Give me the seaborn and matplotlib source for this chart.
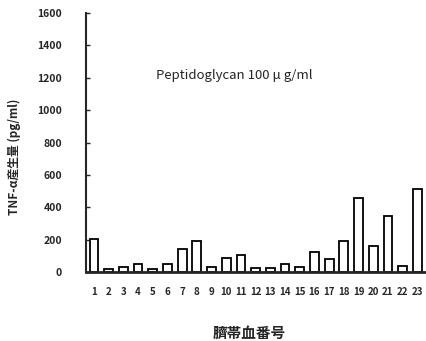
import matplotlib
matplotlib.use("Agg")
import matplotlib.pyplot as plt
import seaborn as sns
import pandas as pd

samples = [str(i) for i in range(1, 24)]
tnf_alpha = [205, 20, 33, 51, 18, 53, 142, 193, 31, 88, 103,
             26, 23, 51, 33, 125, 78, 193, 460, 160, 349, 37, 513]
y_ticks = [0, 200, 400, 600, 800, 1000, 1200, 1400, 1600]

sns.set_theme(style="ticks")
plt.rcParams['font.family'] = ['Noto Sans CJK JP', 'DejaVu Sans']

df = pd.DataFrame({"sample": samples, "value": tnf_alpha})

fig = plt.figure(figsize=(4.27, 3.41), dpi=100)
ax = fig.add_axes([0.201, 0.202, 0.797, 0.760])
sns.barplot(data=df, x="sample", y="value", color="white", edgecolor="black",
            linewidth=1.3, width=0.6, ax=ax)

ax.set_ylim(0, 1600)
ax.set_xlim(-0.55, 22.6)
ax.set_yticks(y_ticks)
ax.set_yticklabels([str(v) for v in y_ticks], fontsize=7.5, fontweight="bold")
ax.tick_params(axis="y", direction="in", length=3, width=1, pad=17)
ax.tick_params(axis="x", length=0, pad=11, labelsize=7)
for lbl in ax.get_xticklabels():
    lbl.set_fontweight("bold")
for s in ["top", "right"]:
    ax.spines[s].set_visible(False)
ax.spines["left"].set_linewidth(1.5)
ax.spines["bottom"].set_linewidth(2)

ax.set_xlabel("臍帯血番号", fontsize=10.5, fontweight="bold")
ax.xaxis.set_label_coords(0.48, -0.205)
ax.set_ylabel("TNF-α産生量 (pg/ml)", fontsize=8.5, fontweight="bold")
ax.yaxis.set_label_coords(-0.19, 0.445)
ax.text(4.2, 1215, "Peptidoglycan 100 μ g/ml", fontsize=9.5, va="center", ha="left")

fig.savefig("out.png", dpi=100)
